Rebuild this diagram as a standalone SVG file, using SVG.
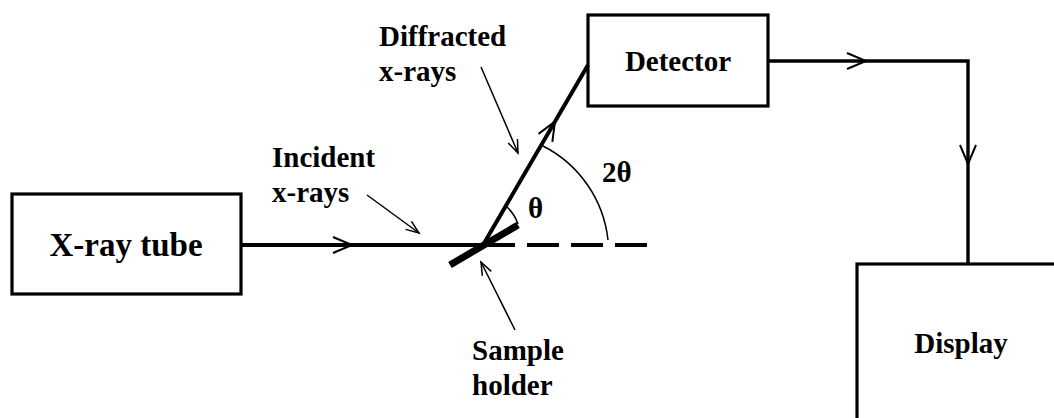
<svg xmlns="http://www.w3.org/2000/svg" width="1054" height="418" viewBox="0 0 1054 418">
<style>
  .box { fill: #fff; stroke: #000; stroke-width: 3.2; }
  .beam { fill: none; stroke: #000; stroke-width: 4; }
  .wire { fill: none; stroke: #000; stroke-width: 3.4; }
  .thin { fill: none; stroke: #000; stroke-width: 1.5; }
  text { font-family: "Liberation Serif", "Times New Roman", serif; font-weight: bold; fill: #000; }
  .lbl { font-size: 29px; }
  .node { font-size: 29px; text-anchor: middle; }
</style>
<defs>
  <marker id="chev" markerUnits="userSpaceOnUse" viewBox="0 -1 22 18" markerWidth="22" markerHeight="18" refX="20" refY="8" orient="auto" overflow="visible">
    <path d="M1,0 L20,8 L1,16" fill="none" stroke="#000" stroke-width="2"/>
  </marker>
  <marker id="thinarr" markerUnits="userSpaceOnUse" viewBox="0 -1 14 12" markerWidth="14" markerHeight="12" refX="13" refY="5" orient="auto" overflow="visible">
    <path d="M0,0 L13,5 L0,10" fill="none" stroke="#000" stroke-width="1.5"/>
  </marker>
</defs>

<g id="xray-tube">
  <rect class="box" x="12" y="194" width="229" height="100"/>
  <text x="126" y="256" style="font-size:33px;text-anchor:middle">X-ray tube</text>
</g>

<g id="detector">
  <rect class="box" x="588" y="15" width="180" height="91"/>
  <text class="node" x="678" y="71">Detector</text>
</g>

<g id="display">
  <rect class="box" x="857" y="264" width="210" height="170"/>
  <text class="node" x="961" y="353">Display</text>
</g>

<g id="sample-holder">
  <line x1="450" y1="265" x2="518" y2="225" stroke="#000" stroke-width="7"/>
</g>

<g id="connectors">
  <!-- incident beam -->
  <line class="beam" x1="241" y1="245" x2="352" y2="245" marker-end="url(#chev)"/>
  <line class="beam" x1="352" y1="245" x2="483" y2="245"/>
  <!-- dashed continuation -->
  <line class="beam" x1="483" y1="245" x2="648" y2="245" stroke-dasharray="32 12"/>
  <!-- diffracted beam -->
  <line class="beam" x1="483" y1="245" x2="555" y2="121.5" marker-end="url(#chev)"/>
  <line class="beam" x1="555" y1="121.5" x2="588" y2="65"/>
  <!-- detector to display -->
  <line class="wire" x1="768" y1="61" x2="866" y2="61" marker-end="url(#chev)"/>
  <path class="wire" d="M866,61 L968,61 L968,163"/>
  <line class="wire" x1="968" y1="163" x2="968" y2="164" marker-end="url(#chev)"/>
  <line class="wire" x1="968" y1="163" x2="968" y2="264"/>
  <!-- angle arcs -->
  <path class="thin" d="M506,206 A45,45 0 0 1 518,224"/>
  <path class="thin" d="M543,146 A120,120 0 0 1 608,240"/>
  <!-- label pointers -->
  <line class="thin" x1="367" y1="195" x2="419" y2="233" marker-end="url(#thinarr)"/>
  <line class="thin" x1="481" y1="67" x2="518" y2="153" marker-end="url(#thinarr)"/>
  <line class="thin" x1="515" y1="330" x2="481" y2="262" marker-end="url(#thinarr)"/>
</g>

<g id="labels">
  <text class="lbl" x="379" y="46">Diffracted</text>
  <text class="lbl" x="379" y="81">x-rays</text>
  <text class="lbl" x="272" y="167">Incident</text>
  <text class="lbl" x="272" y="202">x-rays</text>
  <text class="lbl" x="472" y="360">Sample</text>
  <text class="lbl" x="472" y="395">holder</text>
  <text class="lbl" x="528" y="218">θ</text>
  <text class="lbl" x="602" y="182">2θ</text>
</g>
</svg>
